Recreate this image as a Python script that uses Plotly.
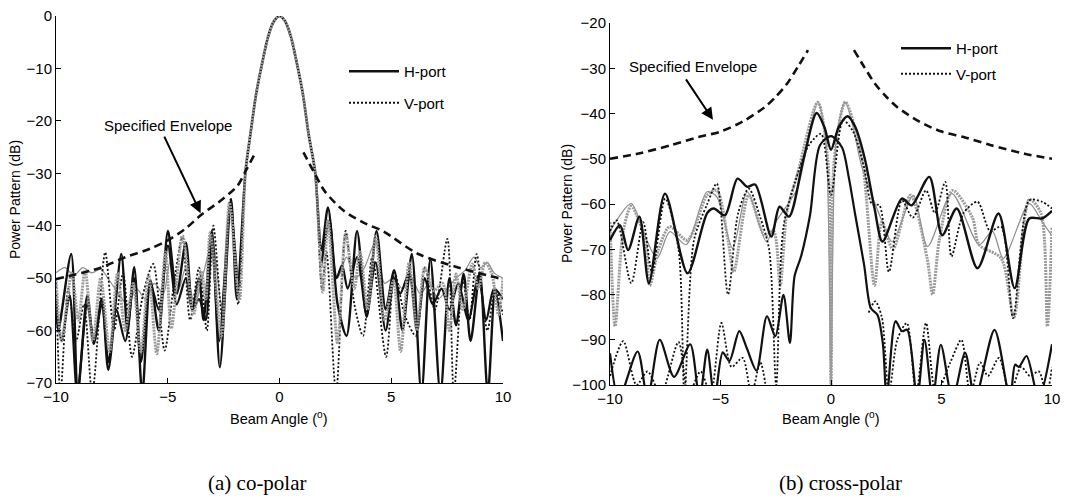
import plotly.graph_objects as go

# ---------------- (a) co-polar : values ----------------
CO_MB_X = [-1.52, -1.3, -1.05, -0.8, -0.5, -0.25, 0, 0.25, 0.5, 0.8, 1.05, 1.3, 1.59]
CO_MB_Y = [-29.6, -22.5, -15, -9.5, -3.8, -1.0, 0, -1.0, -3.8, -9.5, -15, -22.5, -29.6]

CO_H_LX = [-10, -9.9, -9.32, -9.03, -8.6, -8.31, -7.95, -7.66, -7.08, -6.8, -6.5, -6.14,
           -5.78, -5.4, -4.99, -4.6, -4.19, -3.9, -3.6, -3.4, -3.03, -2.67, -2.17, -1.91]
CO_H_LY = [-54, -60, -45.4, -72, -53.3, -62.5, -53.9, -67.5, -45.4, -60, -47.9, -72,
           -50.4, -60, -41, -53, -43.2, -56, -50, -58, -41, -67, -34.9, -54]
CO_H_RX = [1.88, 2.17, 2.6, 3.0, 3.47, 3.9, 4.34, 4.75, 5.13, 5.5, 5.92, 6.35, 6.75,
           7.2, 7.6, 7.9, 8.24, 8.55, 8.96, 9.32, 9.65, 10]
CO_H_RY = [-44.7, -36.5, -55, -61, -41, -57.4, -41, -56, -48.5, -60, -45.4, -72, -46.3,
           -72, -50, -59, -49.2, -62, -48.9, -72, -52.3, -62]

CO_B_LX = [-10, -9.75, -9.39, -9.05, -8.6, -8.3, -7.95, -7.65, -7.3, -6.9, -6.5, -6.2,
           -5.78, -5.4, -4.99, -4.6, -4.19, -3.9, -3.6, -3.3, -3.03, -2.7, -2.2, -1.91]
CO_B_LY = [-55, -62, -53.3, -72, -55, -62, -55, -66, -56, -62, -50, -66,
           -51, -56, -43.8, -55, -50, -56, -54, -58, -42.5, -62, -36, -50]
CO_B_RX = [1.88, 2.24, 2.55, 2.8, 3.05, 3.47, 3.9, 4.3, 4.75, 5.13, 5.4, 5.8, 6.15,
           6.5, 6.85, 7.25, 7.6, 8.0, 8.45, 8.9, 9.25, 9.6, 10]
CO_B_RY = [-47, -39, -50, -47.5, -52, -46, -57, -47, -60, -50, -53, -49, -60,
           -50, -55, -52, -56, -51, -58, -49.5, -58, -52, -54]

CO_V_LX = [-10, -9.8, -9.45, -9.1, -8.75, -8.38, -7.8, -7.4, -7.0, -6.6, -6.1, -5.65,
           -5.14, -4.75, -4.35, -4.0, -3.6, -3.25, -2.96, -2.55, -2.19, -1.85]
CO_V_LY = [-50, -72, -52, -62, -55, -72, -45.1, -60, -49, -65, -53, -47.3,
           -63.8, -52, -42.2, -58, -48, -60, -40, -58, -35, -55]
CO_V_RX = [1.9, 2.1, 2.53, 2.96, 3.35, 3.74, 4.15, 4.77, 5.15, 5.6, 6.1, 6.5, 6.95,
           7.51, 7.8, 8.2, 8.5, 8.82, 9.3, 9.65, 10]
CO_V_RY = [-52, -45, -72, -41, -55, -61, -46, -65, -49, -57, -61, -48, -56,
           -42.5, -72, -50, -58, -45.4, -60, -52, -57]

CO_G_LX = [-10, -9.75, -9.3, -9.0, -8.7, -8.35, -8.0, -7.6, -7.25, -6.9, -6.55, -6.2,
           -5.85, -5.49, -5.1, -4.84, -4.34, -3.85, -3.5, -3.3, -3.1, -2.6, -2.24, -1.8]
CO_G_LY = [-50, -62, -49, -58, -48.5, -62, -50, -64, -49, -60, -51, -64,
           -49.5, -64.4, -45, -59.6, -41.9, -57, -48.6, -54, -41.3, -61, -35.6, -54.3]
CO_G_RX = [1.94, 2.17, 2.6, 2.96, 3.35, 3.6, 3.95, 4.3, 4.7, 5.1, 5.42, 5.8, 6.15,
           6.5, 6.9, 7.3, 7.6, 7.9, 8.2, 8.62, 8.9, 9.2, 9.5, 9.8, 10]
CO_G_RY = [-52.7, -39, -62.5, -41.6, -52, -45, -56, -42, -58, -50.5, -64, -47, -60,
           -48, -52.4, -51, -60, -49.2, -56, -47.3, -52, -47, -49.2, -57, -50]

CO_T_LX = [-10, -9.6, -9.2, -8.8, -8.4, -8.0, -7.6, -7.2, -6.8, -6.4, -6.0, -5.6,
           -5.2, -4.9, -4.5, -4.2, -3.8, -3.4, -3.0, -2.6, -2.2, -1.85]
CO_T_LY = [-49, -48, -49.5, -48, -49, -48.3, -50.5, -53, -55, -52, -54, -51,
           -53, -47, -52, -48, -55, -49, -43, -55, -37, -50]
CO_T_RX = [1.9, 2.2, 2.6, 3.0, 3.4, 3.8, 4.3, 4.7, 5.1, 5.5, 5.9, 6.3, 6.7, 7.1,
           7.5, 7.9, 8.3, 8.7, 9.0, 9.3, 9.6, 10]
CO_T_RY = [-48, -40, -50, -46, -50, -48, -43, -51, -50, -52, -50, -53, -51, -54,
           -52, -50, -48.5, -46, -48, -47, -49, -50]

ENV_CO_LX = [-10, -9.6, -8.0, -6.9, -5.8, -5.0, -4.19, -3.47, -2.75, -1.88, -1.52, -1.07]
ENV_CO_LY = [-50.2, -49.8, -48, -46, -44.4, -42.8, -40.5, -37.8, -35.6, -32.4, -29.6, -26]
ENV_CO_RX = [1.07, 1.52, 2.02, 2.89, 3.9, 4.62, 6.21, 7.95, 9.61, 10]
ENV_CO_RY = [-26, -29.6, -33.4, -37.2, -39.7, -41, -45.4, -47.9, -49.8, -50.2]

# ---------------- (b) cross-polar ----------------
XH_X = [-10, -9.55, -9.18, -8.67, -8.24, -7.51, -6.49, -5.6, -5.3, -4.8, -4.23, -3.79,
        -3.43, -2.7, -2.33, -1.9, -1.24, -0.65, -0.3, 0, 0.35, 0.75, 1.1, 1.53, 1.97,
        2.33, 3.21, 3.64, 4.45, 5.03, 5.69, 6.63, 7.58, 8.31, 8.97, 9.55, 10]
XH_Y = [-68, -64.7, -70.2, -62.8, -77.5, -57.7, -75.3, -62, -61, -62.5, -54.4, -56.2,
        -55.7, -67.2, -60.6, -62.8, -50, -39.9, -43, -48, -43, -40.6, -43, -50, -61,
        -68.3, -58.8, -60.3, -54, -66.9, -61, -74.2, -62.1, -78.6, -63.2, -63.2, -61.5]

XL_X = [-10, -9.6, -8.75, -8.3, -7.75, -7.1, -6.37, -5.95, -5.6, -5.27, -4.9, -4.6,
        -4.15, -3.8, -3.37, -2.9, -2.52, -2.15, -1.86, -1.65, -1.35, -0.95, -0.5, 0,
        0.5, 0.8, 1.1, 1.5, 1.8, 2.1, 2.35, 2.52, 2.92, 3.21, 3.45, 3.9, 4.23, 4.6,
        4.97, 5.5, 6.07, 6.52, 7.4, 8.1, 8.33, 8.5, 8.85, 9.4, 10]
XL_Y = [-93, -103, -92.6, -103, -90, -98.2, -91, -103, -92.2, -103, -92.8, -94.7,
        -88.1, -92, -96.8, -84.8, -89.2, -80.1, -90.7, -76, -71.5, -62.5, -47, -45,
        -47.5, -54, -62.5, -73.5, -83, -84.5, -91, -103, -85.9, -88.1, -87.8, -103, -90, -103,
        -91.1, -103, -92.9, -103, -87.8, -103, -95.5, -96, -93.6, -103, -91]

XV_X = [-10, -9.7, -9.04, -8.5, -8.1, -7.5, -6.9, -6.63, -6.2, -5.6, -5.17, -4.66,
        -4.2, -3.72, -3.2, -2.8, -2.48, -2.15, -1.53, -1.0, -0.45, 0, 0.55, 1.0, 1.5,
        1.85, 2.19, 2.62, 3.21, 3.7, 4.3, 4.7, 5.17, 5.45, 6.0, 6.63, 7.2, 7.7, 8.24,
        8.97, 9.55, 10]
XV_Y = [-66, -63.6, -77.5, -64, -75, -58.8, -70, -102, -68, -60, -55.5, -80,
        -62, -56.6, -63, -70, -100, -65, -53.7, -47, -44.5, -58, -41.5, -44, -52,
        -60, -60.3, -75, -59.2, -63, -57, -62, -55.1, -71.6, -62, -59.5, -66, -65, -85.2,
        -59.2, -59.5, -61]

XVL_LX = [-10, -9.4, -8.8, -8.3, -7.7, -6.9, -6.45, -5.9, -5.45, -4.96, -4.5, -4.0,
          -3.6, -3.2, -2.9]
XVL_LY = [-98, -90.3, -100, -97, -102, -90.5, -102, -97, -102, -86.3, -96, -94,
          -102, -95, -102]
XVL_RX = [1.7, 2.0, 2.3, 2.62, 3.0, 3.43, 3.85, 4.3, 4.75, 5.4, 5.9, 6.3, 6.75, 7.1,
          7.6, 8.1, 8.6, 9.0, 9.4, 9.75, 10]
XVL_RY = [-84, -81.5, -85, -102, -90, -86.3, -102, -86.3, -102, -95, -90, -102, -95, -98,
          -94, -102, -96, -98, -97, -102, -96]

XT_X = [-10, -9.04, -8.5, -7.87, -7.29, -6.56, -5.61, -5.17, -4.45, -3.79, -2.92, -2.5,
        -1.53, -1.0, -0.6, -0.25, 0, 0.25, 0.65, 1.0, 1.38, 2.26, 2.77, 3.72, 4.37,
        5.47, 6.71, 7.3, 7.8, 8.97, 9.55, 10]
XT_Y = [-66, -59.9, -66, -72, -66.1, -69, -57.3, -58.4, -69.8, -57.3, -68.3, -64,
        -56.6, -45, -37.5, -45, -100, -45, -37.5, -43, -51.5, -63.2, -68.3, -58.1, -69.4,
        -57.7, -69, -66, -72, -59.9, -63.9, -67]

XG_X = [-10, -9.77, -9.4, -9.04, -8.4, -8.2, -7.8, -7.3, -6.5, -5.6, -5.17, -4.66, -4.4,
        -3.72, -3.0, -2.6, -2.3, -2.0, -1.5, -0.6, -0.15, 0, 0.15, 0.65, 1.4, 1.97, 2.3,
        2.8, 3.6, 4.35, 4.6, 4.9, 5.5, 6.4, 6.7, 7.7, 8.28, 8.97, 9.5, 9.79, 10]
XG_Y = [-64, -87, -66, -60.5, -68, -78, -70, -65, -68, -58, -57, -68, -75,
        -58, -67, -66, -78, -62, -53, -37.5, -50, -100, -50, -37.5, -50, -78, -64,
        -70, -58, -72, -80, -68, -57, -63, -69, -72, -85, -59, -62, -87, -65]

ENV_X_LX = [-10, -8.76, -7.24, -6.0, -5.0, -4.0, -3.0, -2.5, -2.0, -1.5, -1.04]
ENV_X_LY = [-50, -48.9, -47, -45.2, -44, -41.8, -38.6, -36.3, -33.5, -29.7, -26]
ENV_X_RX = [1.04, 1.5, 2.0, 2.5, 3.0, 4.0, 5.0, 6.0, 7.24, 8.76, 10]
ENV_X_RY = [-26, -29.7, -33.5, -36.3, -38.6, -41.8, -44, -45.2, -47, -48.9, -50]

X_TICKS = [-10, -5, 0, 5, 10]
CO_Y_TICKS = [0, -10, -20, -30, -40, -50, -60, -70]
X_Y_TICKS = [-20, -30, -40, -50, -60, -70, -80, -90, -100]

FONT = "Liberation Sans"
fig = go.Figure()


def line(x, y, xa, ya, color, width, dash="solid", name=None, legend=None, group=None):
    fig.add_trace(go.Scatter(
        x=x, y=y, xaxis=xa, yaxis=ya, mode="lines",
        line=dict(color=color, width=width, dash=dash, shape="spline", smoothing=0.8),
        name=name or "", showlegend=name is not None,
        legend=legend or "legend", legendgroup=group, connectgaps=False,
        hoverinfo="skip"))


BLACK = "#111111"
GRAY = "#9a9a9a"
LGRAY = "#8c8c8c"
DOT = "2px,2px"
STIP = "2px,1px"
DASH = "8px,5px"

# co-polar traces
line(CO_T_LX + [None] + CO_T_RX, CO_T_LY + [None] + CO_T_RY, "x", "y", LGRAY, 1.2)
line(CO_B_LX + [None] + CO_B_RX, CO_B_LY + [None] + CO_B_RY, "x", "y", BLACK, 2.2)
line(CO_H_LX + CO_MB_X + CO_H_RX, CO_H_LY + CO_MB_Y + CO_H_RY, "x", "y", BLACK, 2.4,
     name="H-port", legend="legend", group="h1")
line(CO_V_LX + CO_MB_X + CO_V_RX, CO_V_LY + CO_MB_Y + CO_V_RY, "x", "y", BLACK, 1.8,
     dash=DOT, name="V-port", legend="legend", group="v1")
line(CO_G_LX + CO_MB_X + CO_G_RX, CO_G_LY + CO_MB_Y + CO_G_RY, "x", "y", GRAY, 3, dash=STIP)
line(ENV_CO_LX + [None] + ENV_CO_RX, ENV_CO_LY + [None] + ENV_CO_RY, "x", "y", BLACK, 2.6,
     dash=DASH)

# cross-polar traces
line(XT_X, XT_Y, "x2", "y2", LGRAY, 1.2)
line(XG_X, XG_Y, "x2", "y2", GRAY, 3, dash=STIP)
line(XL_X, XL_Y, "x2", "y2", BLACK, 2.2)
line(XVL_LX + [None] + XVL_RX, XVL_LY + [None] + XVL_RY, "x2", "y2", BLACK, 1.8, dash=DOT)
line(XH_X, XH_Y, "x2", "y2", BLACK, 2.4, name="H-port", legend="legend2", group="h2")
line(XV_X, XV_Y, "x2", "y2", BLACK, 1.8, dash=DOT, name="V-port", legend="legend2", group="v2")
line(ENV_X_LX + [None] + ENV_X_RX, ENV_X_LY + [None] + ENV_X_RY, "x2", "y2", BLACK, 2.6,
     dash=DASH)

W, H = 1081, 501
axis_common = dict(showline=True, linecolor="black", linewidth=1, ticks="inside",
                   ticklen=5, tickcolor="black", showgrid=False, zeroline=False,
                   automargin=False,
                   tickfont=dict(family=FONT, size=15, color="black"))

fig.update_layout(
    width=W, height=H, margin=dict(l=0, r=0, t=0, b=0, autoexpand=False),
    paper_bgcolor="white", plot_bgcolor="white",
    font=dict(family=FONT, color="black"),
    xaxis=dict(domain=[56 / W, 503 / W], range=[-10, 10], tickvals=X_TICKS,
               anchor="y", **axis_common),
    yaxis=dict(domain=[1 - 383 / H, 1 - 16 / H], range=[-70, 0], tickvals=CO_Y_TICKS,
               anchor="x", **axis_common),
    xaxis2=dict(domain=[610 / W, 1052 / W], range=[-10, 10], tickvals=X_TICKS,
                anchor="y2", **axis_common),
    yaxis2=dict(domain=[1 - 385 / H, 1 - 23 / H], range=[-100, -20], tickvals=X_Y_TICKS,
                anchor="x2", **axis_common),
    legend=dict(x=344 / W, y=1 - 55 / H, xanchor="left", yanchor="top",
                bgcolor="rgba(0,0,0,0)", itemwidth=50, traceorder="grouped",
                tracegroupgap=9, font=dict(family=FONT, size=15)),
    legend2=dict(x=896 / W, y=1 - 32 / H, xanchor="left", yanchor="top",
                 bgcolor="rgba(0,0,0,0)", itemwidth=50, traceorder="grouped",
                 tracegroupgap=3, font=dict(family=FONT, size=15)),
)

ann = []
# axis titles
for xp, yp in [(15, 200), (567, 204)]:
    ann.append(dict(x=xp / W, y=1 - yp / H, xref="paper", yref="paper", showarrow=False,
                    xanchor="center", yanchor="middle",
                    text="Power Pattern (dB)", textangle=-90,
                    font=dict(family=FONT, size=14)))
for xp in [279, 831]:
    ann.append(dict(x=xp / W, y=1 - 418 / H, xref="paper", yref="paper", showarrow=False,
                    xanchor="center", yanchor="middle",
                    text="Beam Angle (<sup>o</sup>)", font=dict(family=FONT, size=14.5)))
# captions
ann.append(dict(x=257 / W, y=1 - 483 / H, xref="paper", yref="paper", showarrow=False,
                xanchor="center", yanchor="middle",
                text="(a) co-polar", font=dict(family="Liberation Serif", size=21)))
ann.append(dict(x=840 / W, y=1 - 483 / H, xref="paper", yref="paper", showarrow=False,
                xanchor="center", yanchor="middle",
                text="(b) cross-polar", font=dict(family="Liberation Serif", size=21)))
# envelope labels and arrows
ann.append(dict(x=-4.97, y=-20.8, xref="x", yref="y", showarrow=False,
                xanchor="center", yanchor="middle",
                text="Specified Envelope", font=dict(family=FONT, size=15)))
ann.append(dict(x=-3.53, y=-37.6, xref="x", yref="y", showarrow=True, text="",
                ax=-37, ay=-78, arrowhead=2, arrowsize=1.2, arrowwidth=2, arrowcolor="black"))
ann.append(dict(x=-6.24, y=-29.7, xref="x2", yref="y2", showarrow=False,
                xanchor="center", yanchor="middle",
                text="Specified Envelope", font=dict(family=FONT, size=15)))
ann.append(dict(x=-5.34, y=-41.4, xref="x2", yref="y2", showarrow=True, text="",
                ax=-28, ay=-42, arrowhead=2, arrowsize=1.2, arrowwidth=2, arrowcolor="black"))
fig.update_layout(annotations=ann)

fig.write_html("out.html", config={"displayModeBar": False},
               post_script="document.body.style.margin='0px';document.body.style.padding='0px';")
